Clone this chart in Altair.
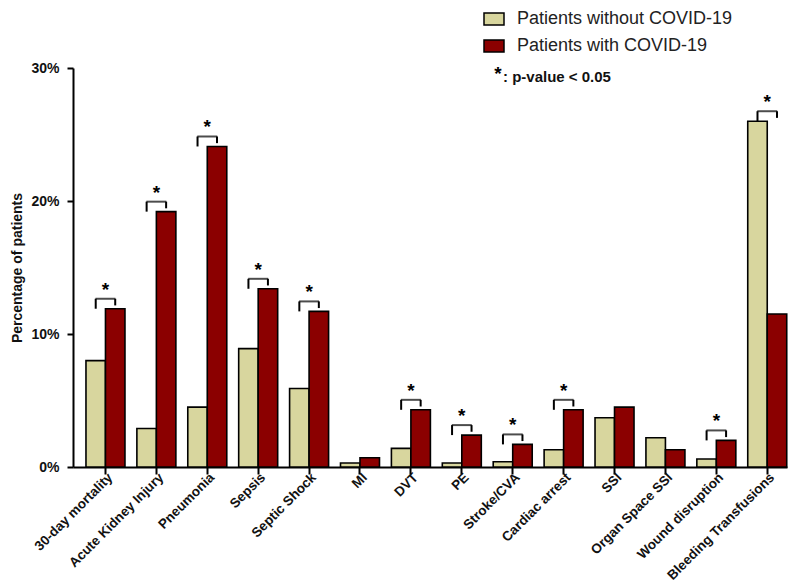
import altair as alt
import pandas as pd

categories = ["30-day mortality", "Acute Kidney Injury", "Pneumonia", "Sepsis",
              "Septic Shock", "MI", "DVT", "PE", "Stroke/CVA", "Cardiac arrest",
              "SSI", "Organ Space SSI", "Wound disruption", "Bleeding Transfusions"]
without_covid = [8.0, 2.9, 4.5, 8.9, 5.9, 0.3, 1.4, 0.3, 0.4, 1.3, 3.7, 2.2, 0.6, 26.0]
with_covid = [11.9, 19.2, 24.1, 13.4, 11.7, 0.7, 4.3, 2.4, 1.7, 4.3, 4.5, 1.3, 2.0, 11.5]
significant = [True, True, True, True, True, False, True, True, True, True,
               False, False, True, True]
groups = ["Patients without COVID-19", "Patients with COVID-19"]
colors = ["#D8D69E", "#8B0000"]
FONT = "Liberation Sans"

rows = []
for c, a, b in zip(categories, without_covid, with_covid):
    rows.append({"category": c, "group": groups[0], "value": a})
    rows.append({"category": c, "group": groups[1], "value": b})
bars_df = pd.DataFrame(rows)

sig_rows, leg_rows = [], []
for c, a, b, s in zip(categories, without_covid, with_covid, significant):
    if not s:
        continue
    top = max(a, b) + 0.75
    sig_rows.append({"category": c, "bracket": top})
    leg_rows.append({"category": c, "group": groups[0], "y1": top, "y2": top - 0.75})
    leg_rows.append({"category": c, "group": groups[1], "y1": top, "y2": top - 0.5})
sig_df = pd.DataFrame(sig_rows)
legs_df = pd.DataFrame(leg_rows)

x_enc = alt.X("category:N", sort=categories,
              scale=alt.Scale(paddingInner=0.234, paddingOuter=0.13, align=0.98),
              axis=alt.Axis(title=None, labelAngle=-45, labelAlign="right",
                            labelBaseline="middle", labelOffset=5, labelFontSize=13.5,
                            labelFontWeight="bold", labelColor="#111",
                            labelLimit=400,
                            tickSize=7, tickWidth=2, tickColor="black",
                            domainWidth=2, domainColor="black", labelPadding=1))
y_scale = alt.Scale(domain=[0, 30], nice=False)
xoff = alt.XOffset("group:N", sort=groups, scale=alt.Scale(domain=groups, paddingInner=0, paddingOuter=0))

bars = alt.Chart(bars_df).mark_bar(stroke="black", strokeWidth=1.6).encode(
    x=x_enc,
    xOffset=xoff,
    y=alt.Y("value:Q", scale=y_scale,
            axis=alt.Axis(values=[0, 10, 20, 30], labelExpr="datum.value + '%'",
                          title="Percentage of patients", titleFontSize=14,
                          titleFontWeight="bold", titleColor="#111",
                          labelFontSize=14, labelFontWeight="bold", labelColor="#111",
                          tickSize=6, tickWidth=2, tickColor="black",
                          domainWidth=2, domainColor="black", grid=False,
                          labelPadding=8, titlePadding=6)),
    color=alt.Color("group:N", sort=groups,
                    scale=alt.Scale(domain=groups, range=colors),
                    legend=alt.Legend(title=None, orient="none", legendX=410, legendY=-60,
                                      symbolType="M-1,-0.6H1V0.6H-1Z", symbolSize=400,
                                      symbolStrokeColor="black", symbolStrokeWidth=1.5,
                                      labelFontSize=18, labelFont=FONT, labelColor="#222",
                                      labelLimit=400,
                                      labelOffset=12, rowPadding=7, padding=0)),
)

brackets = alt.Chart(sig_df).mark_tick(size=20, thickness=2, color="black").encode(
    x=alt.X("category:N", sort=categories),
    y=alt.Y("bracket:Q", scale=y_scale),
)

legs = alt.Chart(legs_df).mark_rule(color="black", strokeWidth=2).encode(
    x=alt.X("category:N", sort=categories),
    xOffset=xoff,
    y=alt.Y("y1:Q", scale=y_scale),
    y2="y2:Q",
)

stars = alt.Chart(sig_df).mark_text(text="*", fontSize=19, fontWeight="bold",
                                    font=FONT, color="black", baseline="alphabetic",
                                    dy=-3).encode(
    x=alt.X("category:N", sort=categories),
    y=alt.Y("bracket:Q", scale=y_scale),
)

note_df = pd.DataFrame({"k": [0]})
note_star = alt.Chart(note_df).mark_text(text="*", fontSize=19, fontWeight="bold",
                                         font=FONT, color="black", align="center",
                                         baseline="alphabetic").encode(
    x=alt.value(425), y=alt.value(12))
note_text = alt.Chart(note_df).mark_text(text=": p-value < 0.05", fontSize=15,
                                         fontWeight="bold", font=FONT, color="#111",
                                         align="left", baseline="alphabetic").encode(
    x=alt.value(430), y=alt.value(14))

chart = alt.layer(bars, brackets, legs, stars, note_star, note_text).properties(
    width=714, height=399,
    autosize=alt.AutoSizeParams(type="none"),
    padding={"left": 65, "top": 60, "right": 5, "bottom": 116},
).configure(font=FONT).configure_view(stroke=None)

chart.save("out.html", embed_options={"renderer": "svg", "actions": False})
